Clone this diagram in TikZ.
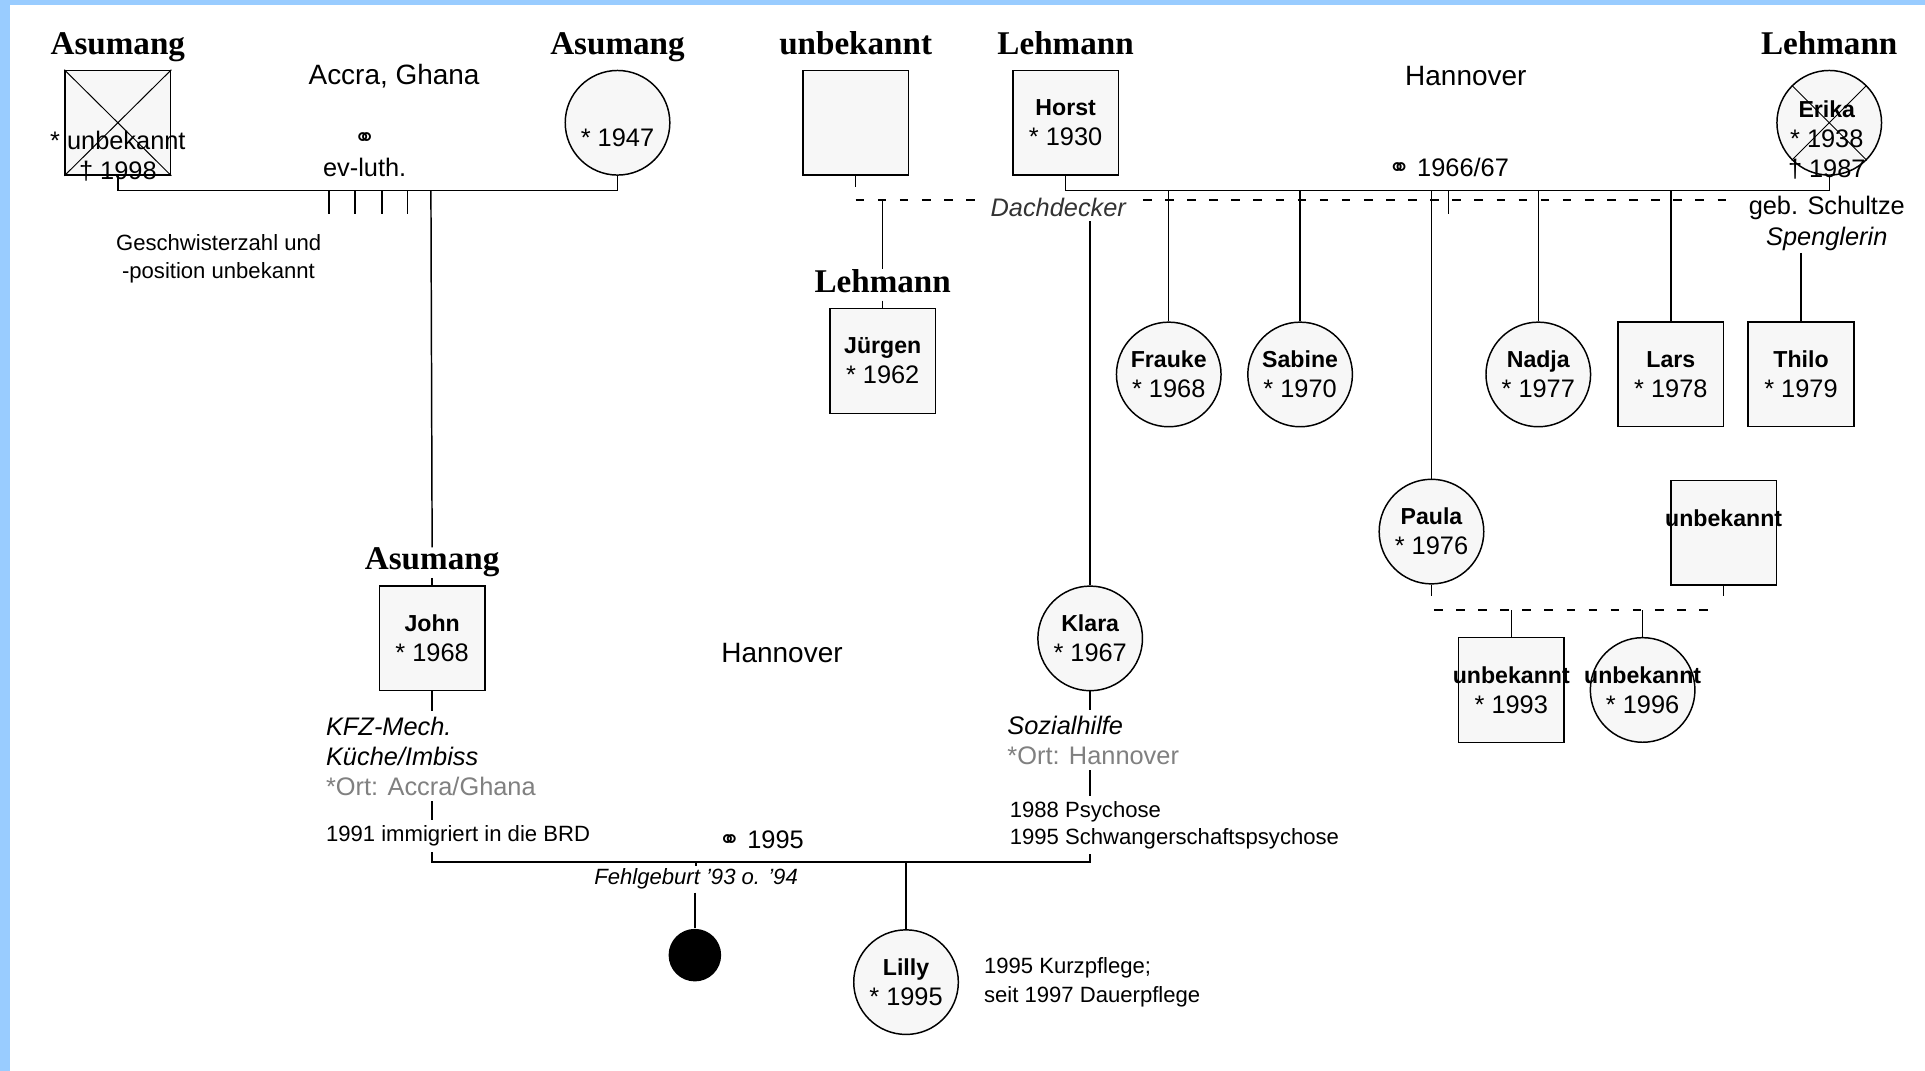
\documentclass[tikz,border=0pt]{standalone}
\usepackage{fontspec}
\setmainfont{Liberation Sans}
\newfontfamily\surfont{Liberation Serif}
\newfontfamily\symfont{DejaVu Sans}
\usetikzlibrary{positioning}
\definecolor{bandblue}{HTML}{99CCFF}
\definecolor{infogray}{HTML}{808080}
\newcommand{\pname}[1]{{\fontsize{13.4}{17.5}\selectfont\bfseries #1}}
\newcommand{\marr}{{\symfont\fontsize{15}{15}\selectfont ⚭}}

\begin{document}
\begin{tikzpicture}[
    x=0.25mm, y=-0.25mm,
    every node/.style={font=\fontsize{14.7}{17.5}\selectfont},
    male/.style={rectangle, draw, fill=black!3, minimum width=21.5mm, minimum height=21.3mm, inner sep=0pt, align=center},
    female/.style={circle, draw, fill=black!3, minimum size=21.3mm, inner sep=0pt, align=center},
    lost/.style={circle, fill=black, minimum size=10.7mm, inner sep=0pt},
    surname/.style={font=\surfont\bfseries\fontsize{19.2}{22}\selectfont, text depth=1.5mm, inner sep=0pt},
    place/.style={font=\fontsize{16.2}{19}\selectfont},
    info/.style={anchor=west, align=left, inner sep=1mm},
    small/.style={font=\fontsize{12.8}{16.4}\selectfont},
    partner/.style={dash pattern=on 1.75mm off 2.75mm},
    line width=0.3mm, black
    ]

    %Frame
    \fill[bandblue] (0,0) rectangle (1568,872);
    \fill[white] (8,4) rectangle (1568,872);
    \useasboundingbox (0,0) rectangle (1568,872);

    %Coordinates
    \coordinate (asuline) at (351,155);
    \coordinate (lehline) at (1180,155);
    \coordinate (dashL)   at (697,163);
    \coordinate (dashR)   at (1413,163);
    \coordinate (paulaL)  at (1168,497);
    \coordinate (paulaR)  at (1393,497);
    \coordinate (jkline)  at (620,702);

    %Nodes
    \node[male]    (asu1)    at (96,100)     {};
    \node[female]  (asu2)    at (503,100)    {\phantom{X}\\{*} 1947};
    \node[male]    (unk1)    at (697,100)    {};
    \node[male]    (horst)   at (868,100)    {\pname{Horst}\\{*} 1930};
    \node[female]  (erika)   at (1490,100)   {};
    \node[male]    (juergen) at (719,294)    {\pname{Jürgen}\\{*} 1962};
    \node[female]  (frauke)  at (952,305)    {\pname{Frauke}\\{*} 1968};
    \node[female]  (sabine)  at (1059,305)   {\pname{Sabine}\\{*} 1970};
    \node[female]  (nadja)   at (1253,305)   {\pname{Nadja}\\{*} 1977};
    \node[male]    (lars)    at (1361,305)   {\pname{Lars}\\{*} 1978};
    \node[male]    (thilo)   at (1467,305)   {\pname{Thilo}\\{*} 1979};
    \node[female]  (paula)   at (1166,433)   {\pname{Paula}\\{*} 1976};
    \node[male]    (unk2)    at (1404,434)   {\makebox[0pt]{\pname{unbekannt}}\\\phantom{X}};
    \node[male]    (unk3)    at (1231,562)   {\makebox[0pt]{\pname{unbekannt}}\\{*} 1993};
    \node[female]  (unk4)    at (1338,562)   {\makebox[0pt]{\pname{unbekannt}}\\{*} 1996};
    \node[male]    (john)    at (352,520)    {\pname{John}\\{*} 1968};
    \node[female]  (klara)   at (888,520)    {\pname{Klara}\\{*} 1967};
    \node[female]  (lilly)   at (738,800)    {\pname{Lilly}\\{*} 1995};
    \node[lost]    (mis)     at (566,778)    {};

    \node[surname] (asu1sur)    [above=1.5mm of asu1]    {Asumang};
    \node[surname] (asu2sur)    [above=1.5mm of asu2]    {Asumang};
    \node[surname] (unk1sur)    [above=1.5mm of unk1]    {unbekannt};
    \node[surname] (horstsur)   [above=1.5mm of horst]   {Lehmann};
    \node[surname] (erikasur)   [above=1.5mm of erika]   {Lehmann};
    \node[surname] (juergensur) [above=1.5mm of juergen] {Lehmann};
    \node[surname] (johnsur)    [above=1.5mm of john]    {Asumang};

    \node[align=center] (asu1data)  at (96,127)   {{*} unbekannt\\† 1998};
    \node[align=center] (erikadata) at (1488,114) {\pname{Erika}\\{*} 1938\\† 1987};

    \node[place] (accra)  at (321,62)   {Accra, Ghana};
    \node[place] (hann1)  at (1194,62)  {Hannover};
    \node[place] (hann2)  at (637,532)  {Hannover};

    \node[align=center] (asumarr) at (297,126)  {\marr\\ev-luth.};
    \node               (lehmarr) at (1180,136) {\marr\ 1966/67};
    \node               (jkmarr)  at (620,684)  {\marr\ 1995};

    \node[small, info] (geschw)   at (90,211)  {Geschwisterzahl und\\\hspace*{1.2mm}-position unbekannt};
    \node[align=center, inner sep=1pt] (schultze) at (1488,182) {geb. Schultze\\\textit{Spenglerin}};

    \node[info] (johninfo)  at (261,616) {\textit{KFZ-Mech.}\\\textit{Küche/Imbiss}\\\textcolor{infogray}{*Ort: Accra/Ghana}};
    \node[small, info] (johnnote)  at (261,681) {1991 immigriert in die BRD};
    \node[info] (klarainfo) at (816,603) {\textit{Sozialhilfe}\\\textcolor{infogray}{*Ort: Hannover}};
    \node[small, info, font=\fontsize{12.8}{15.6}\selectfont] (klaranote) at (818,672) {1988 Psychose\\1995 Schwangerschaftspsychose};
    \node[small, info] (lillynote) at (797,800) {1995 Kurzpflege;\\seit 1997 Dauerpflege};
    \node[small, inner sep=0.5mm] (fehl) at (567,716) {\itshape Fehlgeburt '93 o. '94};

    %Lines
    \draw (asu1.south) |- (asuline) -| (asu2.south);
    \foreach \tx in {-83,-62,-40,-19} \draw (asuline) ++(\tx,0) -- ++(0,19);
    \draw (asuline) -- (johnsur.north);
    \draw (johnsur.south) -- (john.north);

    \draw (horst.south) |- (lehline) -| (erika.south);
    \draw (lehline) -- ++(0,19);
    \foreach \kid in {frauke,sabine,paula,nadja,lars} \draw (\kid.north |- lehline) -- (\kid.north);
    \draw (unk1.south) -- ++(0,9);
    \draw[partner] (dashL) -- (dashR);
    \node[fill=white, inner sep=0.8mm, text=black!80] (dach) at (862,169) {\itshape Dachdecker};
    \draw (juergensur.north |- dashL) -- (juergensur.north);
    \draw (juergensur.south) -- (juergen.north);
    \draw (klara.north |- dach.south) -- (klara.north);
    \draw (thilo.north |- schultze.south) -- (thilo.north);

    \draw (paula.south) -- ++(0,9);
    \draw (unk2.south) -- ++(0,8);
    \draw[partner] (paulaL) -- (paulaR);
    \draw (unk3.north |- paulaL) -- (unk3.north);
    \draw (unk4.north |- paulaL) -- (unk4.north);

    \draw (john.south) -- (john.south |- johninfo.north);
    \draw (john.south |- johninfo.south) -- (john.south |- johnnote.north);
    \draw (john.south |- johnnote.south) |- (jkline) -| (klara.south |- klaranote.south);
    \draw (klara.south) -- (klara.south |- klarainfo.north);
    \draw (klara.south |- klarainfo.south) -- (klara.south |- klaranote.north);
    \draw (lilly.north |- jkline) -- (lilly.north);
    \draw (fehl.north |- jkline) -- (fehl.north);
    \draw (mis.north |- fehl.south) -- (mis.north);

    %Crosses
    \draw[line width=0.2mm] (asu1.north west) -- (asu1.south east) (asu1.north east) -- (asu1.south west);
    \draw[line width=0.2mm] (erika.north west) -- (erika.south east) (erika.north east) -- (erika.south west);
\end{tikzpicture}
\end{document}
